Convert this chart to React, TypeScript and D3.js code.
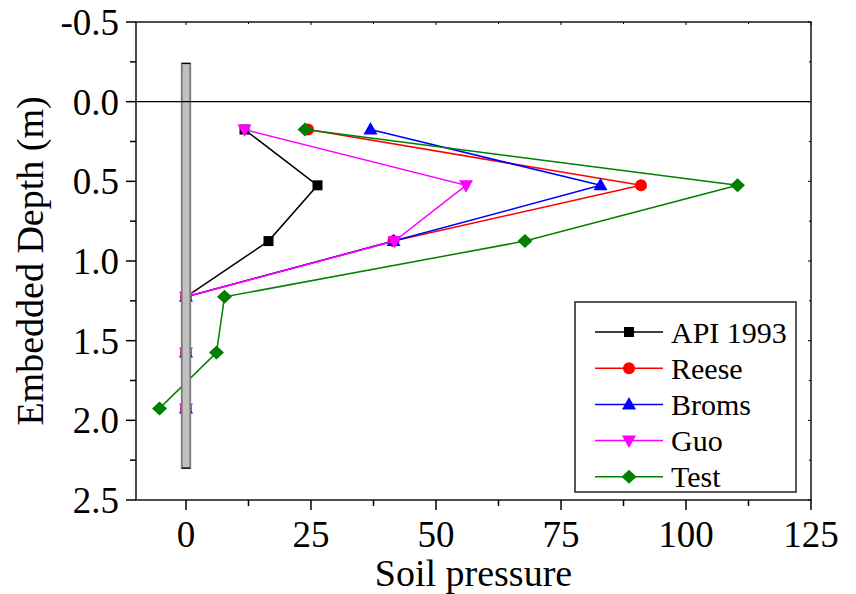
import React from "react";
import * as d3 from "d3";

// Embedded depths (m) at which soil pressure is reported
const depths = [0.175, 0.525, 0.875, 1.225, 1.575, 1.925];

// Soil pressure per method
const apiValues = [11.7, 26.3, 16.5, 0, 0, 0];
const reeseValues = [24.4, 91.0, 41.5, 0, 0, 0];
const bromsValues = [36.9, 82.9, 41.5, 0, 0, 0];
const guoValues = [11.7, 56.0, 41.7, 0, 0, 0];
const testValues = [23.8, 110.3, 67.8, 7.7, 6.1, -5.3];

const seriesNames = ["API 1993", "Reese", "Broms", "Guo", "Test"];
const seriesColors = ["#000000", "#ff0000", "#0000ff", "#ff00ff", "#008000"];
const seriesSymbols = ["square", "circle", "triangleUp", "triangleDown", "diamond"];
const seriesValues = [apiValues, reeseValues, bromsValues, guoValues, testValues];

const xTicks = [0, 25, 50, 75, 100, 125];
const yTicks = [-0.5, 0.0, 0.5, 1.0, 1.5, 2.0, 2.5];

// Pile outline: depth range and half-width in pressure units
const pileTop = -0.24;
const pileBottom = 2.3;
const pileHalfWidth = 0.85;

const W = 856;
const H = 594;
const plot = { left: 136, right: 811, top: 22, bottom: 500 };
const FONT = "Liberation Serif";

const x = d3.scaleLinear().domain([-10, 125]).range([plot.left, plot.right]);
const y = d3.scaleLinear().domain([-0.5, 2.5]).range([plot.top, plot.bottom]);

function Marker({ kind, cx, cy, color }: { kind: string; cx: number; cy: number; color: string }) {
  switch (kind) {
    case "square":
      return <rect x={cx - 5} y={cy - 5} width={10} height={10} fill={color} />;
    case "circle":
      return <circle cx={cx} cy={cy} r={6} fill={color} />;
    case "triangleUp":
      return <path d={`M${cx},${cy - 7.5} L${cx + 7},${cy + 5} L${cx - 7},${cy + 5} Z`} fill={color} />;
    case "triangleDown":
      return <path d={`M${cx},${cy + 7.5} L${cx + 7},${cy - 5} L${cx - 7},${cy - 5} Z`} fill={color} />;
    case "diamond":
      return <path d={`M${cx},${cy - 7} L${cx + 7.5},${cy} L${cx},${cy + 7} L${cx - 7.5},${cy} Z`} fill={color} />;
    default:
      return null;
  }
}

function Label(props: React.SVGProps<SVGTextElement>) {
  return <text {...props} fontFamily={FONT} style={{ fontFamily: `"${FONT}"` }} fill="#000" />;
}

export default function App() {
  const line = d3
    .line<[number, number]>()
    .x((d) => x(d[0]))
    .y((d) => y(d[1]));

  const xMinor = d3.range(0, 125.01, 12.5).filter((v) => !xTicks.includes(v));
  const yMinor = d3.range(-0.25, 2.5, 0.5);

  const legend = { x: 575, y: 302, w: 221, h: 190, row0: 332, rowGap: 36.2 };

  return (
    <svg width={W} height={H} style={{ position: "absolute", left: 0, top: 0 }} fontFamily={FONT}>
      <style>{`text { font-family: "Liberation Serif", serif; }`}</style>
      <rect x={0} y={0} width={W} height={H} fill="#fff" />

      {/* series lines and symbols */}
      {seriesValues.map((vals, i) => {
        const pts: [number, number][] = vals.map((v, j) => [v, depths[j]]);
        return (
          <g key={seriesNames[i]}>
            <path d={line(pts) ?? ""} fill="none" stroke={seriesColors[i]} strokeWidth={1.5} />
            {pts.map((p, j) => (
              <Marker key={j} kind={seriesSymbols[i]} cx={x(p[0])} cy={y(p[1])} color={seriesColors[i]} />
            ))}
          </g>
        );
      })}

      {/* pile */}
      <rect
        x={x(-pileHalfWidth)}
        y={y(pileTop)}
        width={x(pileHalfWidth) - x(-pileHalfWidth)}
        height={y(pileBottom) - y(pileTop)}
        fill="#c0c0c0"
        stroke="#7a7a7a"
        strokeWidth={1.8}
      />
      <line x1={x(-pileHalfWidth)} x2={x(pileHalfWidth)} y1={y(pileTop)} y2={y(pileTop)} stroke="#000" strokeWidth={1.2} />
      <line x1={x(-pileHalfWidth)} x2={x(pileHalfWidth)} y1={y(pileBottom)} y2={y(pileBottom)} stroke="#000" strokeWidth={1.2} />

      {/* ground surface */}
      <line x1={plot.left} x2={plot.right} y1={y(0)} y2={y(0)} stroke="#000" strokeWidth={1.2} />

      {/* frame */}
      <rect
        x={plot.left}
        y={plot.top}
        width={plot.right - plot.left}
        height={plot.bottom - plot.top}
        fill="none"
        stroke="#222"
        strokeWidth={1.6}
      />

      {/* bottom axis ticks */}
      {xTicks.map((t) => (
        <g key={`xt${t}`}>
          <line x1={x(t)} x2={x(t)} y1={plot.bottom} y2={plot.bottom + 10} stroke="#000" strokeWidth={1.5} />
          <line x1={x(t)} x2={x(t)} y1={plot.top} y2={plot.top + 3} stroke="#000" strokeWidth={1} />
          <Label x={x(t)} y={547} textAnchor="middle" fontSize={37}>
            {t}
          </Label>
        </g>
      ))}
      {xMinor.map((t) => (
        <g key={`xm${t}`}>
          <line x1={x(t)} x2={x(t)} y1={plot.bottom} y2={plot.bottom + 6} stroke="#000" strokeWidth={1.5} />
          <line x1={x(t)} x2={x(t)} y1={plot.top} y2={plot.top + 2} stroke="#000" strokeWidth={1} />
        </g>
      ))}

      {/* left axis ticks */}
      {yTicks.map((t) => (
        <g key={`yt${t}`}>
          <line x1={plot.left - 10} x2={plot.left} y1={y(t)} y2={y(t)} stroke="#000" strokeWidth={1.5} />
          <line x1={plot.right - 3} x2={plot.right} y1={y(t)} y2={y(t)} stroke="#000" strokeWidth={1} />
          <Label x={119} y={y(t)} dy="0.35em" textAnchor="end" fontSize={37}>
            {t.toFixed(1)}
          </Label>
        </g>
      ))}
      {yMinor.map((t) => (
        <g key={`ym${t}`}>
          <line x1={plot.left - 6} x2={plot.left} y1={y(t)} y2={y(t)} stroke="#000" strokeWidth={1.5} />
          <line x1={plot.right - 2} x2={plot.right} y1={y(t)} y2={y(t)} stroke="#000" strokeWidth={1} />
        </g>
      ))}

      {/* axis titles */}
      <Label x={(plot.left + plot.right) / 2} y={586} textAnchor="middle" fontSize={38}>
        Soil pressure
      </Label>
      <Label transform={`translate(43, ${(plot.top + plot.bottom) / 2}) rotate(-90)`} textAnchor="middle" fontSize={38}>
        Embedded Depth (m)
      </Label>

      {/* legend */}
      <rect x={legend.x} y={legend.y} width={legend.w} height={legend.h} fill="#fff" stroke="#222" strokeWidth={1.5} />
      {seriesNames.map((name, i) => {
        const ry = legend.row0 + i * legend.rowGap;
        return (
          <g key={`lg${name}`}>
            <line x1={595} x2={663} y1={ry} y2={ry} stroke={seriesColors[i]} strokeWidth={1.5} />
            <Marker kind={seriesSymbols[i]} cx={629} cy={ry} color={seriesColors[i]} />
            <Label x={671} y={ry} dy="0.35em" fontSize={30}>
              {name}
            </Label>
          </g>
        );
      })}
    </svg>
  );
}
